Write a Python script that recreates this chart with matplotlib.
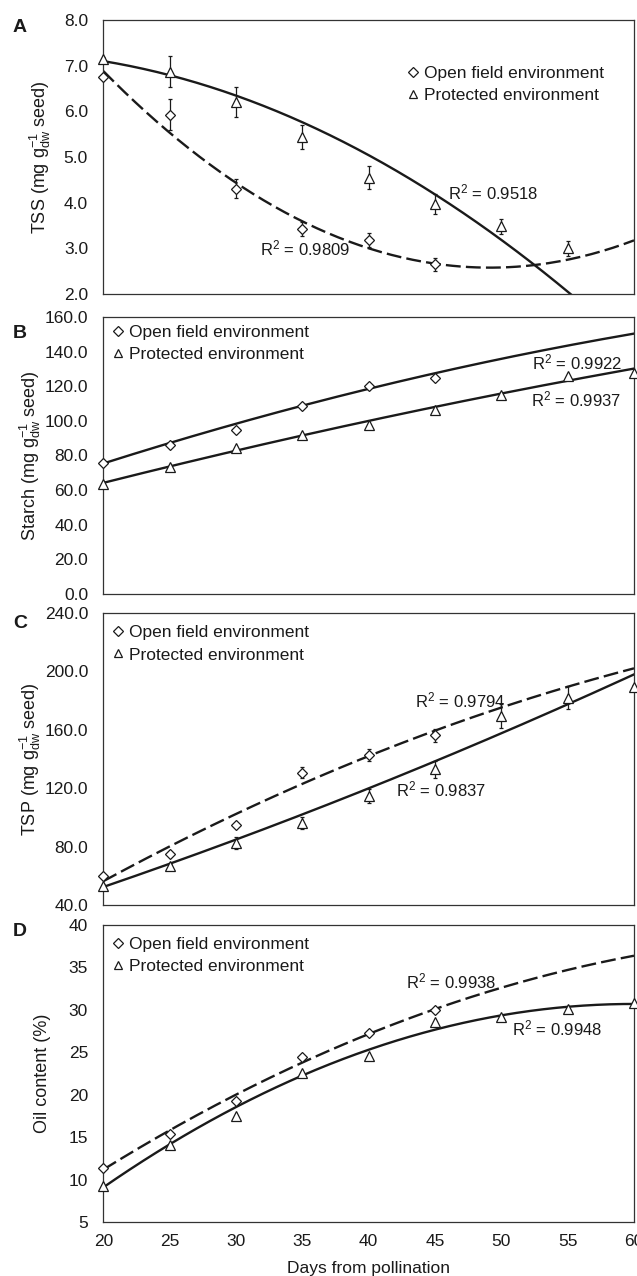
import numpy as np
import matplotlib.pyplot as plt
from matplotlib.lines import Line2D

plt.rcParams['font.family'] = ['Liberation Sans', 'DejaVu Sans']
plt.rcParams['mathtext.fontset'] = 'custom'
plt.rcParams['mathtext.rm'] = 'Liberation Sans'
plt.rcParams['mathtext.it'] = 'Liberation Sans'

# Dane
days = [20, 25, 30, 35, 40, 45, 50, 55, 60]

tss_open = [6.75, 5.93, 4.31, 3.42, 3.19, 2.65]
tss_open_err = [0.04, 0.33, 0.20, 0.15, 0.15, 0.14]
tss_prot = [7.14, 6.87, 6.20, 5.44, 4.55, 3.97, 3.48, 3.00]
tss_prot_err = [0.04, 0.34, 0.33, 0.27, 0.25, 0.22, 0.17, 0.16]

starch_open = [75.8, 85.8, 95.0, 108.5, 120.2, 124.8]
starch_prot = [63.3, 73.5, 84.2, 91.7, 97.5, 106.5, 114.8, 125.8, 127.9]

tsp_open = [59.7, 75.0, 95.1, 130.6, 142.7, 156.2]
tsp_open_err = [1.0, 1.0, 1.0, 3.8, 4.0, 4.5]
tsp_prot = [53.3, 67.0, 82.6, 96.3, 114.6, 132.9, 169.5, 182.1, 189.6]
tsp_prot_err = [1.0, 1.0, 4.0, 4.0, 5.0, 6.0, 8.5, 8.0, 1.0]

oil_open = [11.4, 15.4, 19.3, 24.5, 27.3, 30.0]
oil_prot = [9.2, 14.1, 17.5, 22.6, 24.6, 28.6, 29.1, 30.1, 30.8]

# Współczynniki linii trendu (wielomian 2 stopnia)
tss_open_fit = [0.005068, -0.49814, 14.818]
tss_prot_fit = [-0.00275, 0.062, 6.96]
starch_open_fit = [-0.014, 2.995, 21.1]
starch_prot_fit = [-0.007, 2.21, 22.8]
tsp_open_fit = [-0.032, 6.205, -55.0]
tsp_prot_fit = [0.0131, 2.592, -4.74]
oil_open_fit = [-0.00843, 1.3044, -11.538]
oil_prot_fit = [-0.01353, 1.6228, -17.964]

r2_labels = {
    'A': [('0.9809', 31.8, 3.0, 'left'), ('0.9518', 46.0, 4.23, 'left')],
    'B': [('0.9922', 59.1, 134.0, 'right'), ('0.9937', 59.0, 112.5, 'right')],
    'C': [('0.9794', 43.5, 180.3, 'left'), ('0.9837', 42.05, 119.2, 'left')],
    'D': [('0.9938', 42.85, 33.3, 'left'), ('0.9948', 50.8, 27.8, 'left')],
}

ink = '#1a1a1a'
fs_tick = 12.5
fs_leg = 12.5

fig = plt.figure(figsize=(6.37, 12.76), dpi=100)
W, H = 637, 1276
x_left, x_right = 103.3, 634
panel_px = {'A': (20, 294), 'B': (317, 594), 'C': (613, 905), 'D': (925, 1222)}
letter_y = {'A': 28, 'B': 333, 'C': 623, 'D': 931}

axes = {}
for key, (top, bottom) in panel_px.items():
    axes[key] = fig.add_axes([x_left / W, 1 - bottom / H, (x_right - x_left) / W, (bottom - top) / H])

xs = np.linspace(20, 60, 200)


def draw_panel(ax, open_vals, prot_vals, open_fit, prot_fit, open_ls, open_err=None, prot_err=None):
    d_open = days[:len(open_vals)]
    d_prot = days[:len(prot_vals)]
    ax.plot(xs, np.polyval(open_fit, xs), color=ink, lw=1.7, ls=open_ls, zorder=2)
    ax.plot(xs, np.polyval(prot_fit, xs), color=ink, lw=1.7, ls='-', zorder=2)
    if open_err is not None:
        ax.errorbar(d_open, open_vals, yerr=open_err, fmt='none', ecolor=ink, elinewidth=0.9,
                    capsize=1.6, capthick=0.9, zorder=3)
    if prot_err is not None:
        ax.errorbar(d_prot, prot_vals, yerr=prot_err, fmt='none', ecolor=ink, elinewidth=0.9,
                    capsize=1.6, capthick=0.9, zorder=3)
    ax.plot(d_open, open_vals, 'D', ms=5.6, mfc='white', mec=ink, mew=0.9, ls='none', zorder=4, clip_on=False)
    ax.plot(d_prot, prot_vals, '^', ms=7.0, mfc='white', mec=ink, mew=0.9, ls='none', zorder=4, clip_on=False)


draw_panel(axes['A'], tss_open, tss_prot, tss_open_fit, tss_prot_fit, (0, (6.3, 2.2)), tss_open_err, tss_prot_err)
draw_panel(axes['B'], starch_open, starch_prot, starch_open_fit, starch_prot_fit, '-')
draw_panel(axes['C'], tsp_open, tsp_prot, tsp_open_fit, tsp_prot_fit, (0, (6.3, 2.2)), tsp_open_err, tsp_prot_err)
draw_panel(axes['D'], oil_open, oil_prot, oil_open_fit, oil_prot_fit, (0, (6.3, 2.2)))

# Osie
limits = {'A': (2, 8, 1, '%.1f'), 'B': (0, 160, 20, '%.1f'), 'C': (40, 240, 40, '%.1f'), 'D': (5, 40, 5, '%d')}
ylabels = {
    'A': r'TSS (mg g$^{-1}_{dw}$ seed)',
    'B': r'Starch (mg g$^{-1}_{dw}$ seed)',
    'C': r'TSP (mg g$^{-1}_{dw}$ seed)',
    'D': 'Oil content (%)',
}
label_x = {'A': -0.095, 'B': -0.113, 'C': -0.113, 'D': -0.099}
legend_pos = {'A': (0.570, 0.832), 'B': (0.0145, 0.972), 'C': (0.0145, 0.958), 'D': (0.0145, 0.960)}

for key, ax in axes.items():
    lo, hi, step, fmt = limits[key]
    ax.set_xlim(20, 60)
    ax.set_ylim(lo, hi)
    ax.set_yticks(np.arange(lo, hi + step / 2, step))
    ax.set_yticklabels([fmt % v for v in np.arange(lo, hi + step / 2, step)], fontsize=fs_tick)
    ax.set_xticks(days)
    ax.tick_params(length=0, pad=11, colors=ink)
    ax.tick_params(axis='x', pad=9)
    if key != 'D':
        ax.set_xticklabels([])
    else:
        ax.set_xticklabels([str(d) for d in days], fontsize=fs_tick)
        ax.set_xlabel('Days from pollination', fontsize=12.5, color=ink, labelpad=8)
    for sp in ax.spines.values():
        sp.set_color('#333333')
        sp.set_linewidth(0.9)
    ax.set_ylabel(ylabels[key], fontsize=13, color=ink)
    ax.yaxis.set_label_coords(label_x[key], 0.5)

    handles = [Line2D([], [], marker='D', ms=5.0, mfc='white', mec=ink, mew=0.9, ls='none'),
               Line2D([], [], marker='^', ms=5.8, mfc='white', mec=ink, mew=0.9, ls='none')]
    ax.legend(handles, ['Open field environment', 'Protected environment'], loc='upper left',
              bbox_to_anchor=legend_pos[key], frameon=False, fontsize=fs_leg, handlelength=0.8,
              handletextpad=0.25, borderaxespad=0, borderpad=0, labelspacing=0.4, labelcolor=ink)

    for val, tx, ty, ha in r2_labels[key]:
        ax.text(tx, ty, r'R$^2$ = ' + val, fontsize=12, color=ink, ha=ha, va='center')

    fig.text(20 / W, 1 - letter_y[key] / H, key,
             fontsize=14, fontweight='bold', ha='center', va='center', color=ink)

fig.savefig('out.png', dpi=100)
